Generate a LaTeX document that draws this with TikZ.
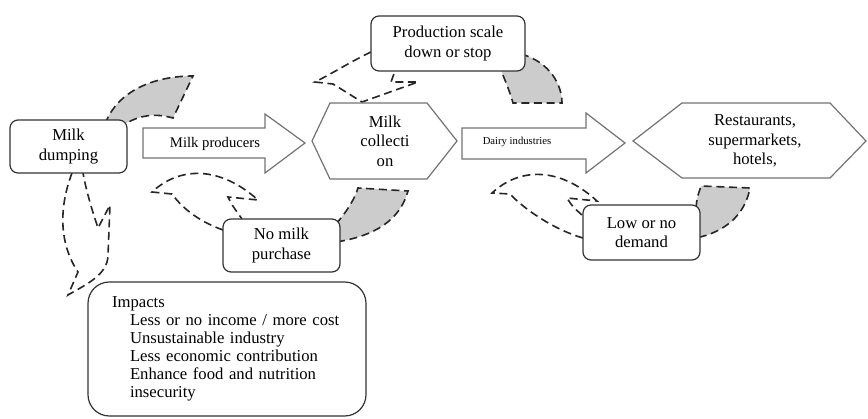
\documentclass[tikz,border=0pt]{standalone}
\usepackage{fontspec}
\setmainfont{Liberation Serif}
\usetikzlibrary{positioning}
\tikzstyle{roundBox}=[draw=black!80, line width=0.9pt, rounded corners=6pt, fill=white,
  align=center, inner sep=0pt, font=\fontsize{12.5}{14.5}\selectfont]
\tikzstyle{flowShape}=[draw=black!55, line width=0.9pt, fill=white]
\tikzstyle{loopArrow}=[draw=black!85, line width=1.2pt, dash pattern=on 6pt off 3.5pt]
\tikzstyle{loopBack}=[loopArrow, fill=black!20]
\tikzstyle{arrowLabel}=[inner sep=0pt]

\begin{document}
\begin{tikzpicture}[x=0.75pt,y=-0.75pt]
      \useasboundingbox (0,0) rectangle (868,418);

      % shaded backs of the loop arrows
      \draw[loopBack] (105,124) .. controls (118,90) and (155,76) .. (193,76)
        -- (173,118) .. controls (155,113) and (140,115) .. (125,124) -- cycle;
      \draw[loopBack] (521,54) .. controls (550,62) and (562,85) .. (562,103)
        -- (513,103) .. controls (510,92) and (505,80) .. (500,68) -- cycle;
      \draw[loopBack] (336,224) .. controls (348,210) and (355,198) .. (358,188)
        -- (408,191) .. controls (400,220) and (375,236) .. (336,242) -- cycle;
      \draw[loopBack] (696,208) .. controls (697,198) .. (701,186)
        -- (750,188) .. controls (745,215) and (725,232) .. (696,238) -- cycle;

      % fronts of the loop arrows
      \draw[loopArrow] (72,173) .. controls (58,210) and (60,245) .. (78,272) -- (68,295)
        .. controls (85,285) and (108,275) .. (108,255) -- (110,205) -- (98,228)
        .. controls (92,210) and (86,190) .. (83,173);
      \draw[loopArrow] (371,52) .. controls (350,62) and (335,72) .. (315,82) -- (333,84)
        -- (362,102) -- (418,82) -- (391,82) -- (395,71);
      \draw[loopArrow] (223,230) .. controls (195,220) and (180,205) .. (172,194) -- (152,192)
        .. controls (180,166) and (220,166) .. (258,200) -- (228,197)
        .. controls (232,205) .. (242,219);
      \draw[loopArrow] (583,238) .. controls (555,230) and (525,210) .. (510,194) -- (492,193)
        .. controls (520,167) and (560,167) .. (597,201) -- (567,198)
        .. controls (572,206) .. (583,216);

      % main chain
      \draw[flowShape] (143,128) -- (265,128) -- (265,114) -- (305,143) -- (265,173)
        -- (265,158) -- (143,158) -- cycle;
      \draw[flowShape] (462,128) -- (586,128) -- (586,113) -- (625,143) -- (586,173)
        -- (586,159) -- (462,159) -- cycle;
      \draw[flowShape] (312,141) -- (330,103) -- (427,103) -- (457,141) -- (427,179)
        -- (330,179) -- cycle;
      \draw[flowShape] (633,141) -- (682,103) -- (830,103) -- (866,141) -- (830,178)
        -- (682,178) -- cycle;

      \node[arrowLabel, font=\fontsize{11}{12}\selectfont] (producers) at (215,144) {Milk producers};
      \node[arrowLabel, font=\fontsize{8}{10}\selectfont] (industries) at (517,142) {Dairy industries};
      \node[roundBox, fill=none, draw=none] (collect) at (385,141) {Milk\\collecti\\on};
      \node[roundBox, fill=none, draw=none] (market) at (755,141) {Restaurants,\\supermarkets,\\hotels,};

      % boxes
      \node[roundBox, minimum width=87.75pt, minimum height=39.75pt] (dump) at (68.5,146.5) {Milk\\dumping};
      \node[roundBox, minimum width=115.5pt, minimum height=41.25pt] (stop) at (448,43.5) {Production scale\\down or stop};
      \node[roundBox, minimum width=87.75pt, minimum height=39.75pt] (noBuy) at (281.5,245.5) {No milk\\purchase};
      \node[roundBox, minimum width=87.75pt, minimum height=41.25pt] (lowDemand) at (641.5,232.5) {Low or no\\demand};
      \node[roundBox, rounded corners=16pt, minimum width=208.5pt, minimum height=100.5pt,
        text width=172.5pt, align=left, font=\fontsize{12.5}{13.4}\selectfont] (impacts) at (227,349)
        {Impacts\\
        \hspace*{13.5pt}Less or no income / more cost\\
        \hspace*{13.5pt}Unsustainable industry\\
        \hspace*{13.5pt}Less economic contribution\\
        \hspace*{13.5pt}Enhance food and nutrition\\
        \hspace*{13.5pt}insecurity};
    \end{tikzpicture}
\end{document}
